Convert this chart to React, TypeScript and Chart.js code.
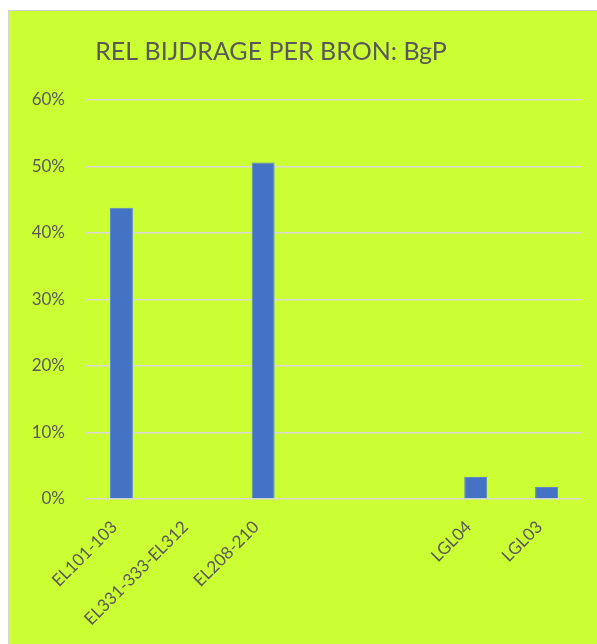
import React, { useEffect, useRef } from "react";
import { Chart, registerables } from "chart.js";

Chart.register(...registerables);

const categories = ["EL101-103", "EL331-333-EL312", "EL208-210", "", "", "LGL04", "LGL03"];
const values = [43.8, 0, 50.6, 0, 0, 3.3, 1.8];
const yTicks = [0, 10, 20, 30, 40, 50, 60];
const titleText = "REL BIJDRAGE PER BRON: BgP";

const FONT = "Lato, 'Open Sans', sans-serif";
const TEXT = "#595959";

const titlePlugin = {
  id: "customTitle",
  afterDraw(chart: any) {
    const ctx = chart.ctx;
    ctx.save();
    ctx.fillStyle = TEXT;
    ctx.font = `25px ${FONT}`;
    ctx.textAlign = "center";
    ctx.textBaseline = "middle";
    ctx.fillText(titleText, 262, 41);
    ctx.restore();
  },
};

export default function App() {
  const ref = useRef<HTMLCanvasElement | null>(null);
  useEffect(() => {
    if (!ref.current) return;
    const chart = new Chart(ref.current, {
      type: "bar",
      data: {
        labels: categories,
        datasets: [
          {
            data: values,
            backgroundColor: "#4472C4",
            borderColor: "#5B86D0",
            borderWidth: 1,
            categoryPercentage: 1,
            barPercentage: 0.324,
          },
        ],
      },
      options: {
        animation: false,
        responsive: false,
        maintainAspectRatio: false,
        layout: { padding: { top: 89, right: 16, left: 0, bottom: 0 } },
        plugins: { legend: { display: false }, tooltip: { enabled: false }, title: { display: false } },
        scales: {
          x: {
            grid: { display: false, drawTicks: false },
            border: { display: false },
            ticks: {
              color: TEXT,
              font: { family: FONT, size: 17 },
              minRotation: 45,
              maxRotation: 45,
              autoSkip: false,
              padding: 18,
              labelOffset: -7,
            },
            afterFit(scale: any) {
              scale.height = 146;
            },
          },
          y: {
            min: 0,
            max: 60,
            afterBuildTicks(scale: any) {
              scale.ticks = yTicks.map((v) => ({ value: v }));
            },
            grid: { color: "#D9D9D9", lineWidth: 1.5, drawTicks: false },
            border: { display: false },
            ticks: {
              color: TEXT,
              font: { family: FONT, size: 17 },
              padding: 21,
              callback: (v: any) => `${v}%`,
            },
            afterFit(scale: any) {
              scale.width = 77;
            },
          },
        },
      },
      plugins: [titlePlugin],
    });
    return () => chart.destroy();
  }, []);

  return (
    <div
      style={{
        position: "absolute",
        left: 8,
        top: 10,
        width: 600,
        height: 640,
        background: "#CCFF33",
        borderLeft: "1.5px solid #D4D4D4",
        borderTop: "1.5px solid #D4D4D4",
        boxSizing: "border-box",
      }}
    >
      <canvas ref={ref} width={589} height={634} style={{ display: "block" }} />
    </div>
  );
}
